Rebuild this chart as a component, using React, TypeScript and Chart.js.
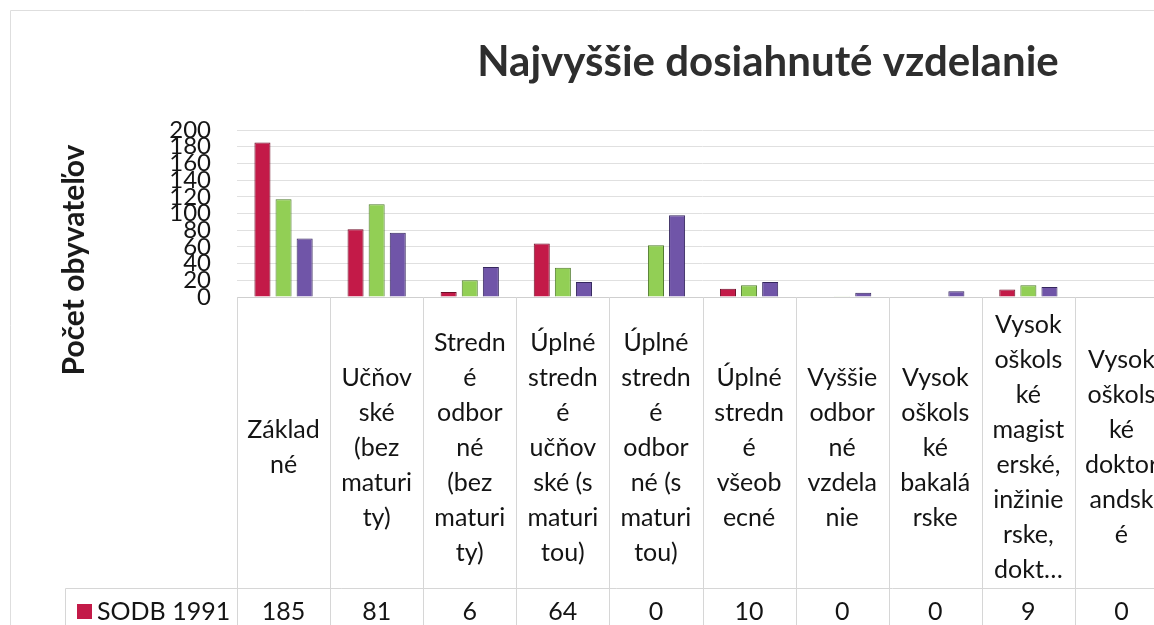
import React, { useEffect, useRef } from "react";
import { Chart, registerables } from "chart.js";

Chart.register(...registerables);

const chartTitle = "Najvyššie dosiahnuté vzdelanie";
const yAxisTitle = "Počet obyvateľov";

const categories: string[][] = [
  ["Základ", "né"],
  ["Učňov", "ské", "(bez", "maturi", "ty)"],
  ["Stredn", "é", "odbor", "né", "(bez", "maturi", "ty)"],
  ["Úplné", "stredn", "é", "učňov", "ské (s", "maturi", "tou)"],
  ["Úplné", "stredn", "é", "odbor", "né (s", "maturi", "tou)"],
  ["Úplné", "stredn", "é", "všeob", "ecné"],
  ["Vyššie", "odbor", "né", "vzdela", "nie"],
  ["Vysok", "oškols", "ké", "bakalá", "rske"],
  ["Vysok", "oškols", "ké", "magist", "erské,", "inžinie", "rske,", "dokt…"],
  ["Vysok", "oškols", "ké", "doktor", "andsk", "é"],
];

const seriesNames = ["SODB 1991", "SODB 2001", "SODB 2011"];
const sodb1991 = [185, 81, 6, 64, 0, 10, 0, 0, 9, 0];
const sodb2001 = [117, 111, 20, 35, 62, 14, 1, 0, 14, 0];
const sodb2011 = [70, 77, 36, 18, 98, 18, 5, 7, 12, 0];

const yMin = 0;
const yMax = 200;
const yStep = 20;

const fillColors = ["#c31a48", "#92cf55", "#7055a8"];
const borderColors = ["#6e0e28", "#4f7a2c", "#35275e"];

const FONT = "Lato, 'Open Sans', sans-serif";

export default function App() {
  const ref = useRef<HTMLCanvasElement | null>(null);

  useEffect(() => {
    const canvas = ref.current;
    if (!canvas) return;

    const decor = {
      id: "decor",
      afterDraw(chart: any) {
        const ctx = chart.ctx as CanvasRenderingContext2D;
        const xs = chart.scales.x;
        const area = chart.chartArea;
        const n = categories.length;
        const w = (xs.right - xs.left) / n;
        const H = chart.height;
        const W = chart.width;
        ctx.save();
        // outer frame of the chart (scan border)
        ctx.strokeStyle = "#dedede";
        ctx.lineWidth = 1;
        ctx.beginPath();
        ctx.moveTo(10.5, H);
        ctx.lineTo(10.5, 10.5);
        ctx.lineTo(W, 10.5);
        ctx.stroke();

        // data table grid
        const headerBottom = 588.5;
        ctx.strokeStyle = "#d6d6d6";
        ctx.beginPath();
        for (let i = 0; i <= n; i++) {
          const px = Math.round(xs.left + i * w) + 0.5;
          ctx.moveTo(px, area.bottom);
          ctx.lineTo(px, H);
        }
        ctx.moveTo(65.5, headerBottom);
        ctx.lineTo(xs.right, headerBottom);
        ctx.moveTo(65.5, headerBottom);
        ctx.lineTo(65.5, H);
        ctx.stroke();

        // title
        ctx.fillStyle = "#2e2e2e";
        ctx.font = `bold 42px ${FONT}`;
        ctx.textAlign = "center";
        ctx.textBaseline = "middle";
        ctx.fillText(chartTitle, 768, 62);

        // y axis title
        ctx.save();
        ctx.translate(74, 260);
        ctx.rotate(-Math.PI / 2);
        ctx.font = `bold 30px ${FONT}`;
        ctx.fillStyle = "#1a1a1a";
        ctx.fillText(yAxisTitle, 0, 0);
        ctx.restore();

        // table row: SODB 1991
        const rowY = 612;
        ctx.fillStyle = fillColors[0];
        ctx.fillRect(77, 604, 15, 15);
        ctx.fillStyle = "#141414";
        ctx.font = `25px ${FONT}`;
        ctx.textAlign = "left";
        ctx.fillText(seriesNames[0], 97, rowY);
        ctx.textAlign = "center";
        sodb1991.forEach((v, i) => {
          ctx.fillText(String(v), xs.getPixelForValue(i), rowY);
        });
        ctx.restore();
      },
    };

    const series = [sodb1991, sodb2001, sodb2011];
    const chart = new Chart(canvas, {
      type: "bar",
      data: {
        labels: categories,
        datasets: series.map((d, i) => ({
          label: seriesNames[i],
          data: d,
          backgroundColor: fillColors[i],
          borderColor: borderColors[i],
          borderWidth: 1,
          categoryPercentage: 0.68,
          barPercentage: 0.76,
        })),
      },
      options: {
        responsive: false,
        animation: false,
        layout: { padding: { top: 130, right: 0, bottom: 57, left: 0 } },
        plugins: {
          legend: { display: false },
          title: { display: false },
          tooltip: { enabled: false },
        },
        scales: {
          x: {
            grid: { display: false, drawTicks: false },
            border: { display: true, color: "#cfcfcf" },
            ticks: {
              autoSkip: false,
              maxRotation: 0,
              minRotation: 0,
              crossAlign: "center",
              padding: 28,
              color: "#141414",
              font: { family: FONT, size: 25, lineHeight: 1.4 },
            },
            afterFit: (s: any) => {
              s.height = 286;
            },
          },
          y: {
            min: yMin,
            max: yMax,
            grid: { color: "#e0e0e0", drawTicks: false },
            border: { display: false },
            ticks: {
              stepSize: yStep,
              autoSkip: false,
              padding: 26,
              color: "#141414",
              font: { family: FONT, size: 24 },
            },
            afterFit: (s: any) => {
              s.width = 237;
            },
          },
        },
      },
      plugins: [decor],
    });
    return () => chart.destroy();
  }, []);

  return (
    <div
      style={{
        position: "fixed",
        left: 0,
        top: 0,
        width: 1154,
        height: 625,
        overflow: "hidden",
        background: "#fff",
      }}
    >
      <canvas
        ref={ref}
        width={1186}
        height={640}
        style={{ width: 1186, height: 640, display: "block" }}
      />
    </div>
  );
}
